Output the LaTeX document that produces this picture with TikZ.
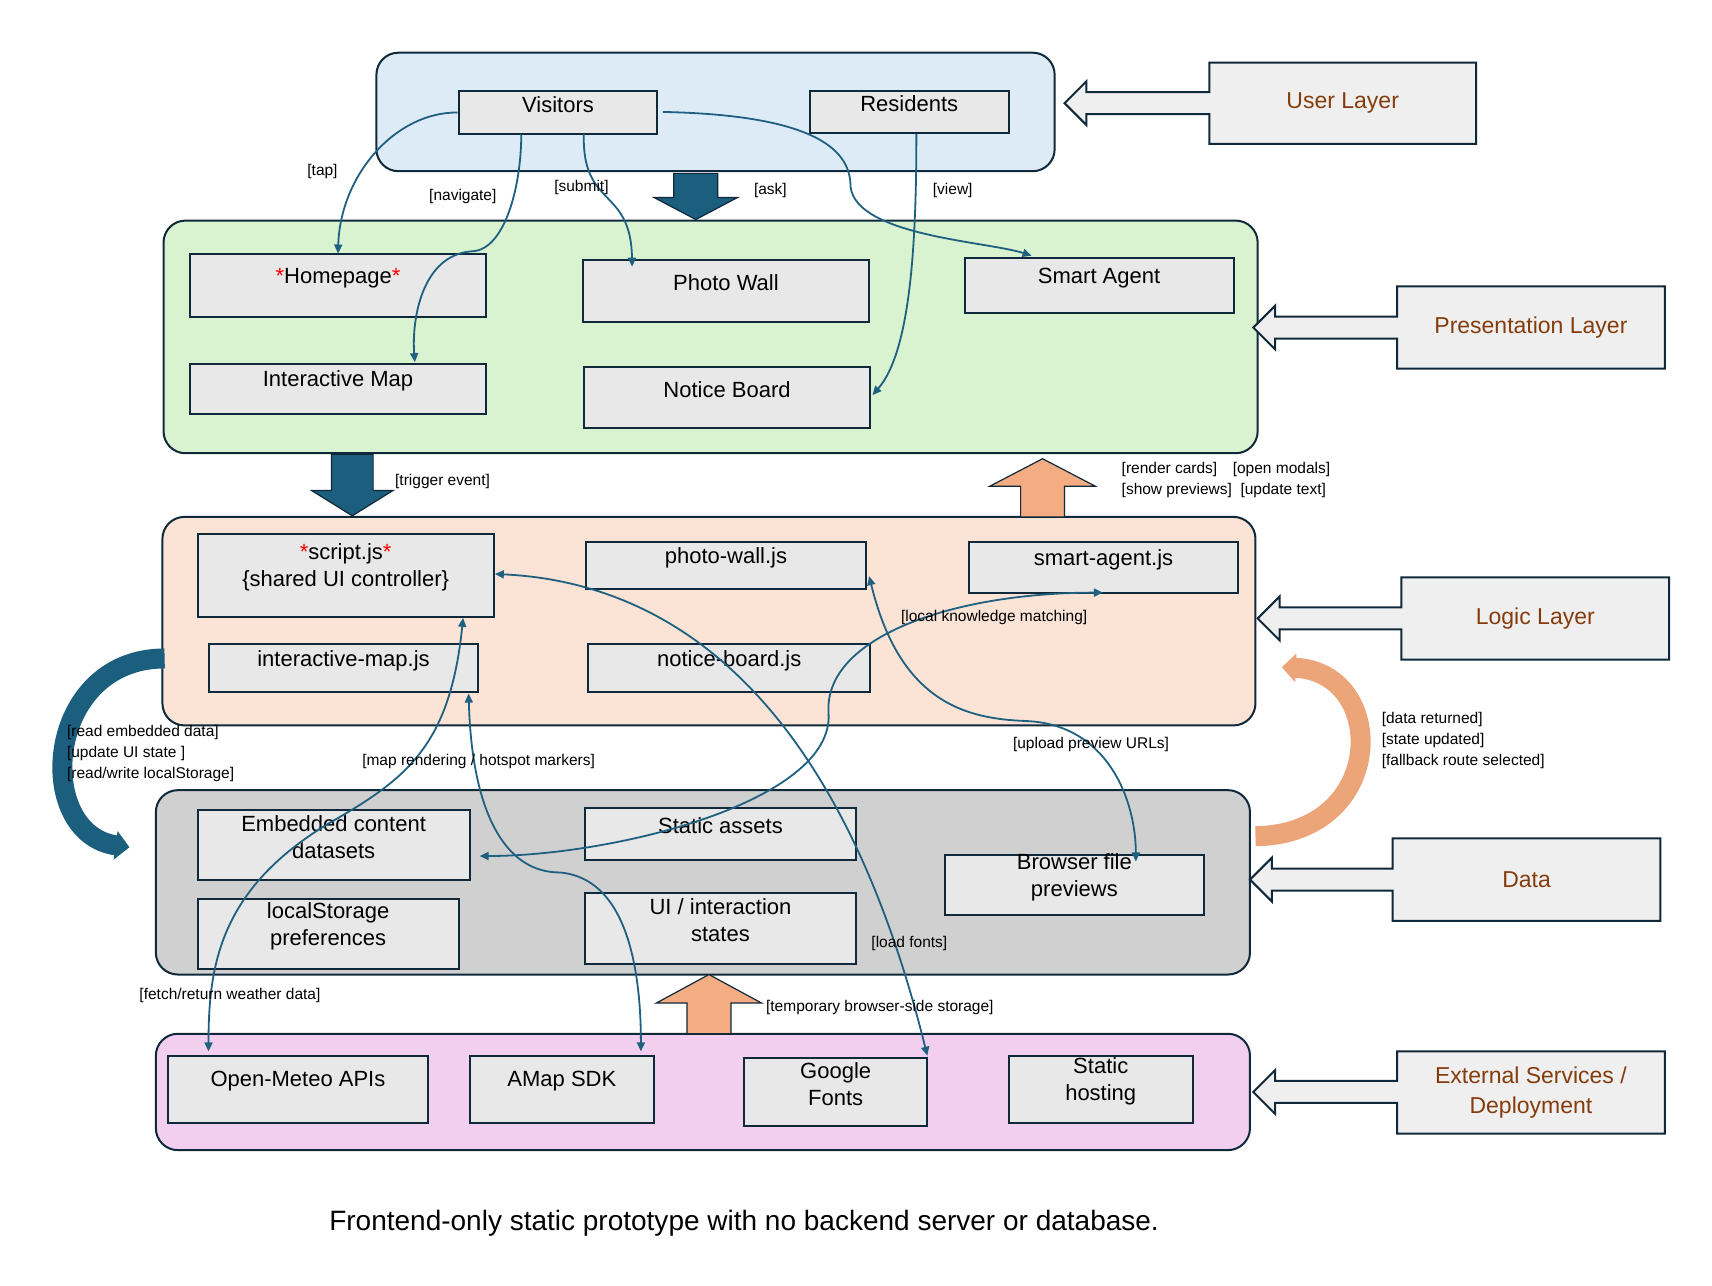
\documentclass[tikz,border=0pt]{standalone}
\usepackage{fontspec}
\setmainfont{Liberation Sans}
\usetikzlibrary{fit,arrows.meta}
\definecolor{dk}{HTML}{10293A}
\definecolor{ln}{HTML}{1F6080}
\definecolor{bx}{HTML}{E8E8E8}
\definecolor{brn}{HTML}{843C0C}
\definecolor{ub}{HTML}{DDEBF7}
\definecolor{gr}{HTML}{D9F2D0}
\definecolor{pc}{HTML}{FBE3D6}
\definecolor{gy}{HTML}{D0D0D0}
\definecolor{pk}{HTML}{F2CFEE}
\definecolor{bl}{HTML}{1B5E7E}
\definecolor{org}{HTML}{F4AC82}
\begin{document}
\begin{tikzpicture}[x=1.0974pt,y=-1.0974pt,
 cont/.style={draw=dk,line width=2pt,rounded corners=22pt,inner sep=0pt},
 box/.style={draw=dk,fill=bx,line width=2pt,inner sep=0pt,align=center,font=\fontsize{22}{27}\selectfont},
 lab/.style={font=\fontsize{15.5}{19}\selectfont,inner sep=1pt,align=left},
 call/.style={draw=dk,fill=bx!70!white,line width=2pt},
 ctext/.style={text=brn,font=\fontsize{23}{28}\selectfont},
 con/.style={draw=ln,line width=1.8pt,{Triangle[length=9pt,width=8pt]}-{Triangle[length=9pt,width=8pt]}},
 blk/.style={line width=1.2pt},
]
\useasboundingbox (0,0) rectangle (1560,1171);
% containers
\node[cont,fill=ub,fit={(343,48)(961,156)}] (ul) {};
\node[cont,fill=gr,fit={(149,201)(1146,413)}] (pl) {};
\node[cont,fill=pc,fit={(148,471)(1144,661)}] (ll) {};
\node[cont,fill=gy,fit={(142,720)(1139,888)}] (dl) {};
\node[cont,fill=pk,fit={(142,942)(1139,1048)}] (el) {};
% boxes
\node[box,fit={(418,83)(599,122)}] (vis) {Visitors};
\node[box,fit={(738,83)(919,121)}] (res) {Residents};
\node[box,fit={(173,231)(443,289)}] (home) {{\color{red}*}Homepage{\color{red}*}};
\node[box,fit={(173,332)(443,377)}] (imap) {Interactive Map};
\node[box,fit={(531,237)(792,293)}] (pw) {Photo Wall};
\node[box,fit={(532,334)(793,390)}] (nb) {Notice Board};
\node[box,fit={(879,235)(1124,285)}] (sa) {Smart Agent};
\node[box,fit={(180,487)(450,562)}] (sj) {{\color{red}*}script.js{\color{red}*}\\\{shared UI controller\}};
\node[box,fit={(534,494)(789,537)}] (pwj) {photo-wall.js};
\node[box,fit={(883,494)(1128,540)}] (saj) {smart-agent.js};
\node[box,fit={(190,587)(436,631)}] (imj) {interactive-map.js};
\node[box,fit={(536,587)(793,631)}] (nbj) {notice-board.js};
\node[box,fit={(180,738)(428,802)}] (emb) {Embedded content\\datasets};
\node[box,fit={(180,819)(418,883)}] (lsp) {localStorage\\preferences};
\node[box,fit={(533,736)(780,784)}] (sta) {Static assets};
\node[box,fit={(533,814)(780,878)}] (uis) {UI / interaction\\states};
\node[box,fit={(861,779)(1097,834)}] (bfp) {Browser file\\previews};
\node[box,fit={(153,962)(390,1023)}] (om) {Open-Meteo APIs};
\node[box,fit={(428,962)(596,1023)}] (amap) {AMap SDK};
\node[box,fit={(678,964)(845,1026)}] (gf) {Google\\Fonts};
\node[box,fit={(919,962)(1087,1023)}] (sh) {Static\\hosting};
% callouts
\foreach \bxa/\bya/\bxb/\byb/\tip/\nm/\txt in {
 1102/57/1345/131/970/cu/User Layer,
 1273/261/1517/336/1142/cp/Presentation Layer,
 1277/526/1521/601/1146/cl/Logic Layer,
 1269/764/1513/839/1139/cd/Data / State Layer}{
 \pgfmathsetmacro\cy{(\bya+\byb)/2}
 \pgfmathsetmacro\hb{\tip+20}
 \draw[call] (\bxa,\bya)--(\bxb,\bya)--(\bxb,\byb)--(\bxa,\byb)--(\bxa,\cy+10)--(\hb,\cy+10)--(\hb,\cy+20)--(\tip,\cy)--(\hb,\cy-20)--(\hb,\cy-10)--(\bxa,\cy-10)--cycle;
 \node[ctext] (\nm) at ({(\bxa+\bxb)/2},\cy) {\txt};
}
\draw[call] (1273,958)--(1517,958)--(1517,1033)--(1273,1033)--(1273,1005)--(1162,1005)--(1162,1015)--(1142,995)--(1162,975)--(1162,985)--(1273,985)--cycle;
\node[ctext,align=center,font=\fontsize{23}{30}\selectfont] (ce) at (1395,995.5) {External Services /\\Deployment};
% block arrows
\draw[blk,draw=dk,fill=bl] (614,158)--(654,158)--(654,180)--(672,180)--(634,200)--(596,180)--(614,180)--cycle;
\draw[blk,draw=dk,fill=bl] (302,414)--(340,414)--(340,447)--(358,447)--(321,470)--(284,447)--(302,447)--cycle;
\draw[blk,draw=dk,fill=org] (930,471)--(970,471)--(970,443)--(998,443)--(950,418)--(902,443)--(930,443)--cycle;
\draw[blk,draw=dk,fill=org] (626,942)--(666,942)--(666,914)--(694,914)--(646,888)--(598,914)--(626,914)--cycle;
% curved big arrows
\draw[line width=20pt,draw=bl,-{Triangle[length=14pt,width=28pt]}] (150,600) .. controls (40,600) and (30,760) .. (118,772);
\draw[line width=20pt,draw=org!85!brown,-{Triangle[length=14pt,width=28pt]}] (1144,762) .. controls (1265,760) and (1265,612) .. (1168,608);
% connectors
\draw[con,{}-{Triangle[length=9pt,width=8pt]}] (vis.west) .. controls (360,102) and (310,160) .. (308,231);
\draw[con,{}-{Triangle[length=9pt,width=8pt]}] (475,122) .. controls (475,170) and (460,228) .. (430,229) .. controls (385,232) and (375,290) .. (378,330);
\draw[con,{}-{Triangle[length=9pt,width=8pt]}] (532,122) .. controls (530,190) and (575,170) .. (576,243);
\draw[con,{}-{Triangle[length=9pt,width=8pt]}] (604,102) .. controls (750,105) and (775,140) .. (775,170) .. controls (780,215) and (900,220) .. (940,233);
\draw[con,{}-{Triangle[length=9pt,width=8pt]}] (835,122) .. controls (835,220) and (830,320) .. (795,360);
\draw[con] (sj.east|-0,523) .. controls (600,530) and (760,620) .. (845,962);
\draw[con] (792,525) .. controls (820,640) and (880,655) .. (935,657) .. controls (1010,660) and (1035,730) .. (1035,785);
\draw[con] (1005,540) .. controls (870,540) and (750,580) .. (755,650) .. controls (760,730) and (560,780) .. (437,780);
\draw[con] (422,563) .. controls (410,680) and (370,710) .. (300,750) .. controls (200,810) and (190,880) .. (190,958);
\draw[con] (427,632) .. controls (430,740) and (460,795) .. (510,795) .. controls (570,800) and (584,880) .. (584,958);
% labels
\node[lab,anchor=west] (l1) at (279,156) {[tap]};
\node[lab,anchor=west] (l2) at (390,179) {[navigate]};
\node[lab,anchor=west] (l3) at (504,171) {[submit]};
\node[lab,anchor=west] (l4) at (686,174) {[ask]};
\node[lab,anchor=west] (l5) at (849,174) {[view]};
\node[lab,anchor=west] (l6) at (359,439) {[trigger event]};
\node[lab,anchor=west] (l7) at (1021,437) {[render cards]\quad[open modals]\\[2pt][show previews]\ \ [update text]};
\node[lab,anchor=west] (l8) at (820,563) {[local knowledge matching]};
\node[lab,anchor=west] (l9) at (60,687) {[read embedded data]\\[2pt][update UI state ]\\[2pt][read/write localStorage]};
\node[lab,anchor=west] (l10) at (329,694) {[map rendering / hotspot markers]};
\node[lab,anchor=west] (l11) at (922,678) {[upload preview URLs]};
\node[lab,anchor=west] (l12) at (1258,675) {[data returned]\\[2pt][state updated]\\[2pt][fallback route selected]};
\node[lab,anchor=west] (l13) at (793,860) {[load fonts]};
\node[lab,anchor=west] (l14) at (126,907) {[fetch/return weather data]};
\node[lab,anchor=west] (l15) at (697,918) {[temporary browser-side storage]};
\node[font=\fontsize{28}{34}\selectfont] (cap) at (678,1115) {Frontend-only static prototype with no backend server or database.};
\end{tikzpicture}
\end{document}
